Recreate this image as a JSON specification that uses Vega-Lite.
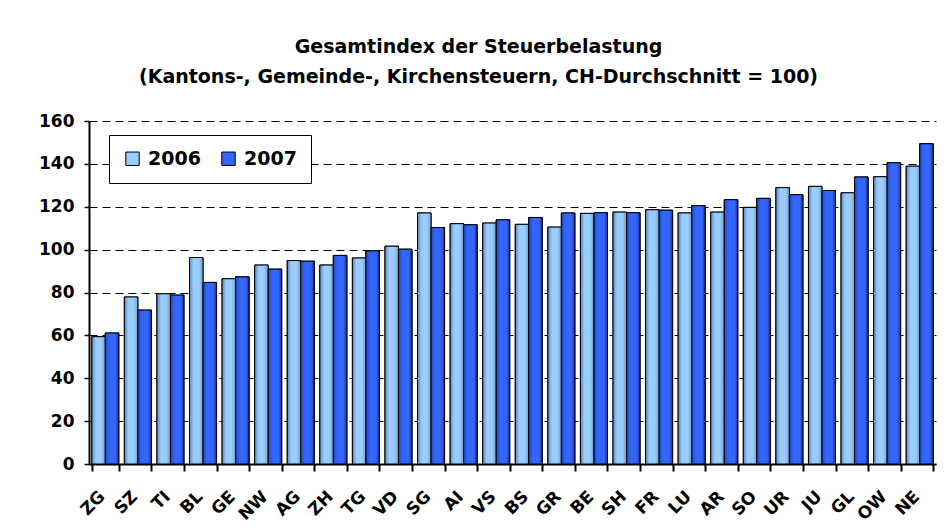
{
  "$schema": "https://vega.github.io/schema/vega-lite/v6.json",
  "autosize": {"type": "none"},
  "width": 847,
  "height": 343,
  "padding": {"left": 89, "top": 121, "right": 12, "bottom": 68},
  "background": "white",
  "title": {
    "text": ["Gesamtindex der Steuerbelastung", "(Kantons-, Gemeinde-, Kirchensteuern, CH-Durchschnitt = 100)"],
    "font": "DejaVu Sans",
    "fontSize": 19,
    "fontWeight": "bold",
    "color": "black",
    "lineHeight": 30,
    "anchor": "middle",
    "dx": -34,
    "offset": 25
  },
  "data": {
    "values": [
      {"canton": "ZG", "year": "2006", "value": 59.4},
      {"canton": "ZG", "year": "2007", "value": 61.1},
      {"canton": "SZ", "year": "2006", "value": 77.9},
      {"canton": "SZ", "year": "2007", "value": 71.8},
      {"canton": "TI", "year": "2006", "value": 79.4},
      {"canton": "TI", "year": "2007", "value": 78.8},
      {"canton": "BL", "year": "2006", "value": 96.3},
      {"canton": "BL", "year": "2007", "value": 84.7},
      {"canton": "GE", "year": "2006", "value": 86.4},
      {"canton": "GE", "year": "2007", "value": 87.3},
      {"canton": "NW", "year": "2006", "value": 92.8},
      {"canton": "NW", "year": "2007", "value": 90.9},
      {"canton": "AG", "year": "2006", "value": 94.9},
      {"canton": "AG", "year": "2007", "value": 94.6},
      {"canton": "ZH", "year": "2006", "value": 92.8},
      {"canton": "ZH", "year": "2007", "value": 97.3},
      {"canton": "TG", "year": "2006", "value": 96.1},
      {"canton": "TG", "year": "2007", "value": 99.4},
      {"canton": "VD", "year": "2006", "value": 101.6},
      {"canton": "VD", "year": "2007", "value": 100.2},
      {"canton": "SG", "year": "2006", "value": 117.1},
      {"canton": "SG", "year": "2007", "value": 110.3},
      {"canton": "AI", "year": "2006", "value": 112.1},
      {"canton": "AI", "year": "2007", "value": 111.6},
      {"canton": "VS", "year": "2006", "value": 112.4},
      {"canton": "VS", "year": "2007", "value": 113.9},
      {"canton": "BS", "year": "2006", "value": 111.8},
      {"canton": "BS", "year": "2007", "value": 115.0},
      {"canton": "GR", "year": "2006", "value": 110.5},
      {"canton": "GR", "year": "2007", "value": 117.1},
      {"canton": "BE", "year": "2006", "value": 116.9},
      {"canton": "BE", "year": "2007", "value": 117.2},
      {"canton": "SH", "year": "2006", "value": 117.5},
      {"canton": "SH", "year": "2007", "value": 117.2},
      {"canton": "FR", "year": "2006", "value": 118.6},
      {"canton": "FR", "year": "2007", "value": 118.4},
      {"canton": "LU", "year": "2006", "value": 117.1},
      {"canton": "LU", "year": "2007", "value": 120.5},
      {"canton": "AR", "year": "2006", "value": 117.5},
      {"canton": "AR", "year": "2007", "value": 123.3},
      {"canton": "SO", "year": "2006", "value": 119.7},
      {"canton": "SO", "year": "2007", "value": 123.9},
      {"canton": "UR", "year": "2006", "value": 128.9},
      {"canton": "UR", "year": "2007", "value": 125.6},
      {"canton": "JU", "year": "2006", "value": 129.5},
      {"canton": "JU", "year": "2007", "value": 127.6},
      {"canton": "GL", "year": "2006", "value": 126.5},
      {"canton": "GL", "year": "2007", "value": 133.9},
      {"canton": "OW", "year": "2006", "value": 134.0},
      {"canton": "OW", "year": "2007", "value": 140.5},
      {"canton": "NE", "year": "2006", "value": 138.9},
      {"canton": "NE", "year": "2007", "value": 149.4}
    ]
  },
  "encoding": {
    "x": {
      "field": "canton",
      "type": "nominal",
      "sort": null,
      "scale": {"paddingInner": 0.17, "paddingOuter": 0.085},
      "axis": {
        "title": null,
        "labelAngle": -45,
        "labelFont": "DejaVu Sans",
        "labelFontSize": 17,
        "labelFontWeight": "bold",
        "labelColor": "black",
        "labelPadding": 17,
        "labelOffset": -9,
        "tickBand": "extent",
        "tickSize": 7,
        "tickColor": "black",
        "tickWidth": 2,
        "domainColor": "black",
        "domainWidth": 2
      }
    },
    "xOffset": {"field": "year", "type": "nominal", "scale": {"paddingInner": 0}},
    "y": {
      "field": "value",
      "type": "quantitative",
      "scale": {"domain": [0, 160], "nice": false},
      "axis": {
        "title": null,
        "values": [0, 20, 40, 60, 80, 100, 120, 140, 160],
        "labelFont": "DejaVu Sans",
        "labelFontSize": 17,
        "labelFontWeight": "bold",
        "labelColor": "black",
        "labelPadding": 10,
        "tickSize": 5,
        "tickColor": "black",
        "tickWidth": 1.5,
        "domainColor": "black",
        "domainWidth": 2,
        "grid": true,
        "gridColor": "black",
        "gridDash": [8, 5],
        "gridWidth": 1
      }
    }
  },
  "layer": [
    {
      "mark": {"type": "bar", "stroke": "black", "strokeWidth": 1},
      "encoding": {
        "fill": {
          "field": "year",
          "type": "nominal",
          "scale": {"range": ["#99ccff", "#3366ff"]},
          "legend": {
            "title": null,
            "orient": "none",
            "legendX": 20,
            "legendY": 14,
            "direction": "horizontal",
            "symbolType": "square",
            "symbolSize": 180,
            "symbolStrokeColor": "black",
            "symbolStrokeWidth": 1,
            "labelFont": "DejaVu Sans",
            "labelFontSize": 19,
            "labelFontWeight": "bold",
            "labelColor": "black",
            "labelOffset": 6,
            "columnPadding": 18,
            "padding": 14,
            "strokeColor": "black",
            "fillColor": "white"
          }
        }
      }
    },
    {
      "transform": [{"filter": "datum.year === '2006'"}],
      "mark": {
        "type": "bar", "stroke": "black", "strokeWidth": 1,
        "fill": {
          "gradient": "linear", "x1": 0, "x2": 1, "y1": 0, "y2": 0,
          "stops": [
            {"offset": 0, "color": "#5b87b5"},
            {"offset": 0.3, "color": "#99ccff"},
            {"offset": 0.7, "color": "#99ccff"},
            {"offset": 1, "color": "#6f9fd0"}
          ]
        }
      },
      "encoding": {}
    },
    {
      "transform": [{"filter": "datum.year === '2007'"}],
      "mark": {
        "type": "bar", "stroke": "black", "strokeWidth": 1,
        "fill": {
          "gradient": "linear", "x1": 0, "x2": 1, "y1": 0, "y2": 0,
          "stops": [
            {"offset": 0, "color": "#2447b8"},
            {"offset": 0.3, "color": "#3366ff"},
            {"offset": 0.75, "color": "#3366ff"},
            {"offset": 1, "color": "#1a2f99"}
          ]
        }
      },
      "encoding": {}
    }
  ],
  "config": {
    "view": {"stroke": null}
  }
}
